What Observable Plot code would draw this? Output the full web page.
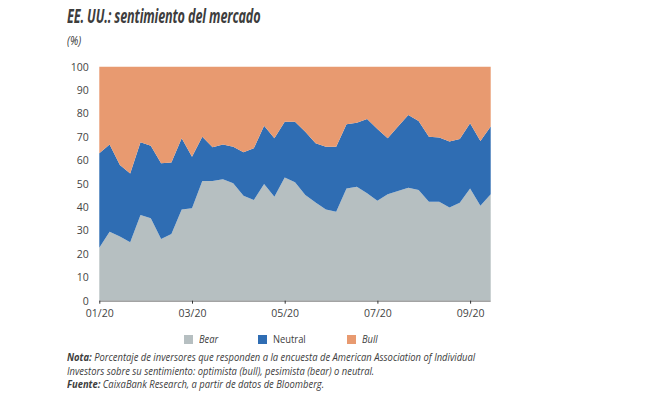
<!DOCTYPE html>
<html><head><meta charset="utf-8">
<script src="https://cdn.jsdelivr.net/npm/d3@7"></script>
<script src="https://cdn.jsdelivr.net/npm/@observablehq/plot@0.6"></script>
<style>
html,body{margin:0;padding:0;background:#fff}
body{width:670px;height:399px;position:relative;overflow:hidden;font-family:"Open Sans",sans-serif;color:#3a3a3a}
#title{position:absolute;left:67px;top:3px;font-family:"Open Sans",sans-serif;font-style:italic;font-weight:bold;font-size:19px;color:#3d3d3d;white-space:nowrap;transform:scaleX(0.665);transform-origin:0 0;letter-spacing:-0.2px}
#sub{position:absolute;left:67px;top:31px;font-family:"Open Sans",sans-serif;font-style:italic;font-size:13px;color:#3d3d3d;transform:scaleX(0.8);transform-origin:0 0}
#chart{position:absolute;left:0;top:55px}
#legend{position:absolute;left:0;top:332px;width:670px;height:14px;font-family:"Open Sans",sans-serif;font-size:11px;color:#3d3d3d}
#legend .it{position:absolute;top:0;white-space:nowrap;line-height:14px}
#legend .sw{display:inline-block;width:9px;height:9px;vertical-align:-1px;margin-right:6px}
#legend .tx{display:inline-block;transform:scaleX(0.85);transform-origin:0 50%}
#notes{position:absolute;left:67px;top:350px;font-family:"Open Sans",sans-serif;font-style:italic;font-size:11px;line-height:13.5px;color:#3d3d3d;white-space:nowrap;transform:scaleX(0.855);transform-origin:0 0}
#notes b{font-weight:bold}
</style>
</head><body>
<div id="title">EE. UU.: sentimiento del mercado</div>
<div id="sub">(%)</div>
<div id="chart"></div>
<div id="legend"></div>
<div id="notes"></div>
<script>
// weekly observations (index of survey week)
const weeks = [0,1,2,3,4,5,6,7,8,9,10,11,12,13,14,15,16,17,18,19,20,21,22,23,24,25,26,27,28,29,30,31,32,33,34,35,36,37,38];
const bear = [22.6,29.5,27.4,25.0,36.6,35.2,26.4,28.5,39.0,39.5,51.2,51.2,51.9,50.2,44.9,43.0,49.9,44.4,52.6,50.6,45.2,42.0,39.0,38.0,48.0,48.7,45.9,42.7,45.5,46.9,48.3,47.3,42.3,42.3,39.8,41.9,48.0,40.6,45.5];
const neutral = [40.4,37.3,30.6,29.4,31.1,31.0,32.3,30.6,30.4,22.0,18.9,14.4,14.9,15.6,18.5,22.1,24.9,25.0,23.9,25.9,27.0,25.3,26.8,27.8,27.4,27.4,31.7,30.7,23.9,27.5,31.1,29.5,27.8,27.4,28.2,27.2,27.8,27.6,28.9];
const bull = [37.0,33.2,42.0,45.6,32.3,33.8,41.3,40.9,30.6,38.5,29.9,34.4,33.2,34.2,36.6,34.9,25.2,30.6,23.5,23.5,27.8,32.7,34.2,34.2,24.6,23.9,22.4,26.6,30.6,25.6,20.6,23.2,29.9,30.3,32.0,30.9,24.2,31.8,25.6];
const seriesNames = ["Bear","Neutral","Bull"];
const seriesColors = ["#b6bfc1","#2f6db3","#e89a70"];
const legendItalic = [true,false,true];
const xTickWeeks = [0,9,18,27,36];
const xTickLabels = ["01/20","03/20","05/20","07/20","09/20"];
const yTicks = [0,10,20,30,40,50,60,70,80,90,100];

const values = {Bear: bear, Neutral: neutral, Bull: bull};
const rows = [];
for (const s of seriesNames) weeks.forEach((w, k) => rows.push({week: w, serie: s, value: values[s][k]}));

const chart = Plot.plot({
  width: 670, height: 270,
  marginLeft: 99.3, marginRight: 179.3, marginTop: 11.7, marginBottom: 24.3,
  style: {fontFamily: "'Open Sans', sans-serif", fontSize: "10.5px", color: "#444", background: "transparent", overflow: "visible"},
  x: {domain: [0, 38], label: null},
  y: {domain: [0, 100], label: null},
  color: {domain: seriesNames, range: seriesColors},
  marks: [
    Plot.areaY(rows, {x: "week", y: "value", z: "serie", fill: "serie", order: seriesNames}),
    Plot.ruleY([0], {stroke: "#7a7a7a", strokeWidth: 1}),
    Plot.axisY({ticks: yTicks, tickSize: 0, tickPadding: 11, fill: "#444", label: null}),
    Plot.axisX({ticks: xTickWeeks, tickFormat: d => xTickLabels[xTickWeeks.indexOf(d)], tickSize: 3, tickPadding: 5, stroke: "#333", fill: "#444", label: null})
  ]
});
document.getElementById("chart").appendChild(chart);

const legend = document.getElementById("legend");
const legendX = [184, 258, 347];
seriesNames.forEach((s, k) => {
  const it = document.createElement("div");
  it.className = "it";
  it.style.left = legendX[k] + "px";
  const sw = document.createElement("span");
  sw.className = "sw";
  sw.style.background = seriesColors[k];
  const tx = document.createElement("span");
  tx.className = "tx";
  tx.textContent = s;
  if (legendItalic[k]) tx.style.fontStyle = "italic";
  it.appendChild(sw); it.appendChild(tx);
  legend.appendChild(it);
});

document.getElementById("notes").innerHTML =
  "<b>Nota:</b> Porcentaje de inversores que responden a la encuesta de American Association of Individual<br>" +
  "Investors sobre su sentimiento: optimista (bull), pesimista (bear) o neutral.<br>" +
  "<b>Fuente:</b> CaixaBank Research, a partir de datos de Bloomberg.";
</script>
</body></html>
